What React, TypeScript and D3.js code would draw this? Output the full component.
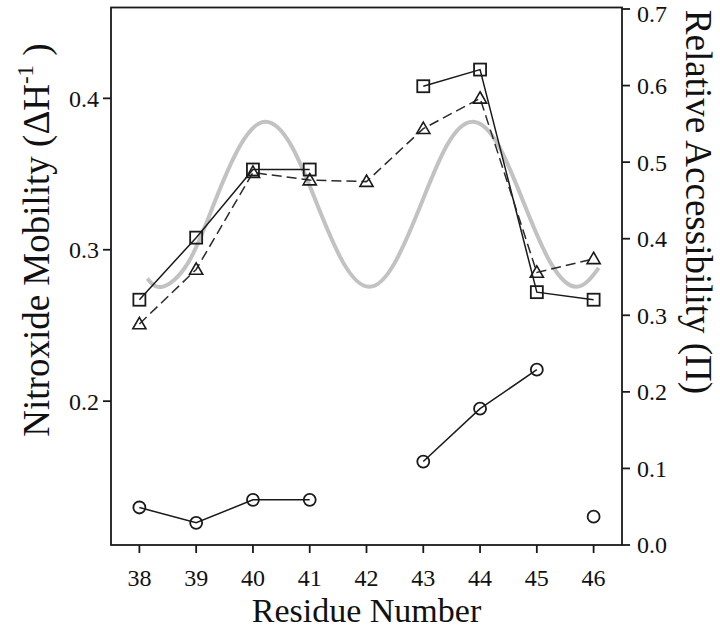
import * as d3 from 'd3';

// residue positions on the x axis
const residues = [38, 39, 40, 41, 42, 43, 44, 45, 46];
// nitroxide mobility (left axis); null = no measurement
const squareMobility = [0.267, 0.308, 0.353, 0.353, null, 0.408, 0.419, 0.272, 0.267];
const triangleMobility = [0.251, 0.287, 0.351, 0.346, 0.345, 0.38, 0.4, 0.285, 0.294];
// relative accessibility (right axis); groups say which points are joined
const circleAccess = [0.049, 0.029, 0.059, 0.059, null, 0.109, 0.178, 0.229, 0.037];
const circleGroup = [0, 0, 0, 0, null, 1, 1, 1, 2];

// grey helical-periodicity curve (left axis)
const waveResidue = [38.14, 38.4, 38.86, 39.31, 39.77, 40.22, 40.68, 41.13, 41.59, 42.05, 42.5, 42.96, 43.41, 43.87, 44.33, 44.78, 45.24, 45.7, 46.09];
const waveMobility = [0.281, 0.2755, 0.2915, 0.33, 0.3685, 0.3845, 0.3685, 0.33, 0.2915, 0.2755, 0.2915, 0.33, 0.3685, 0.3845, 0.3685, 0.33, 0.2915, 0.2755, 0.288];

const leftTicks = [0.2, 0.3, 0.4];
const rightTicks = [0, 0.1, 0.2, 0.3, 0.4, 0.5, 0.6, 0.7];

const W = 720;
const H = 630;
const box = { left: 111, right: 622, top: 7.5, bottom: 545 };
const font = '"Liberation Serif", "Times New Roman", serif';

type Pt = { r: number; v: number | null; g?: number | null };

export default function App() {
  const x = d3.scaleLinear().domain([37.5, 46.5]).range([box.left, box.right]);
  const yL = d3.scaleLinear().domain([0.105, 0.46]).range([box.bottom, box.top]);
  const yR = d3.scaleLinear().domain([0, 0.7]).range([box.bottom, 9]);

  const squares: Pt[] = residues.map((r, i) => ({ r, v: squareMobility[i] }));
  const triangles: Pt[] = residues.map((r, i) => ({ r, v: triangleMobility[i] }));
  const circles: Pt[] = residues.map((r, i) => ({ r, v: circleAccess[i], g: circleGroup[i] }));

  const lineL = d3.line<Pt>().defined(d => d.v !== null).x(d => x(d.r)).y(d => yL(d.v as number));

  const circleSegs = d3.groups(circles.filter(d => d.v !== null), d => d.g).map(([, pts]) => pts);
  const lineR = d3.line<Pt>().x(d => x(d.r)).y(d => yR(d.v as number));

  const wave = d3.line<number>()
    .x((_, i) => x(waveResidue[i]))
    .y(d => yL(d))
    .curve(d3.curveNatural);

  const tri = d3.symbol().type(d3.symbolTriangle).size(75)();

  return (
    <svg width={W} height={H} style={{ position: 'absolute', left: 0, top: 0, background: '#fff' }}
      fontFamily={font}>
      {/* grey curve */}
      <path d={wave(waveMobility) ?? ''} fill="none" stroke="#c2c2c2" strokeWidth={4} />

      {/* connecting lines */}
      <path d={lineL(squares) ?? ''} fill="none" stroke="#1a1a1a" strokeWidth={1.5} />
      <path d={lineL(triangles) ?? ''} fill="none" stroke="#2a2a2a" strokeWidth={1.5} strokeDasharray="10,5" />
      {circleSegs.map((seg, i) => (
        <path key={i} d={lineR(seg) ?? ''} fill="none" stroke="#1a1a1a" strokeWidth={1.5} />
      ))}

      {/* markers */}
      {squares.filter(d => d.v !== null).map(d => (
        <rect key={'s' + d.r} x={x(d.r) - 6} y={yL(d.v as number) - 6} width={12} height={12}
          fill="none" stroke="#1a1a1a" strokeWidth={1.8} />
      ))}
      {triangles.map(d => (
        <path key={'t' + d.r} d={tri ?? ''} transform={`translate(${x(d.r)},${yL(d.v as number) + 1})`}
          fill="none" stroke="#1a1a1a" strokeWidth={1.6} />
      ))}
      {circles.filter(d => d.v !== null).map(d => (
        <circle key={'c' + d.r} cx={x(d.r)} cy={yR(d.v as number)} r={6}
          fill="none" stroke="#1a1a1a" strokeWidth={1.8} />
      ))}

      {/* frame */}
      <rect x={box.left} y={box.top} width={box.right - box.left} height={box.bottom - box.top}
        fill="none" stroke="#1a1a1a" strokeWidth={1.8} />

      {/* left axis */}
      {leftTicks.map(t => (
        <g key={'l' + t}>
          <line x1={box.left - 8} x2={box.left} y1={yL(t)} y2={yL(t)} stroke="#1a1a1a" strokeWidth={1.8} />
          <text x={box.left - 12} y={yL(t)} dy="0.35em" textAnchor="end" fontSize={24} fill="#111">
            {d3.format('.1f')(t)}
          </text>
        </g>
      ))}

      {/* right axis */}
      {rightTicks.map(t => (
        <g key={'r' + t}>
          <line x1={box.right} x2={box.right + 8} y1={yR(t)} y2={yR(t)} stroke="#1a1a1a" strokeWidth={1.8} />
          <text x={box.right + 15} y={Math.max(yR(t), 13.5)} dy="0.35em" textAnchor="start" fontSize={24} fill="#111">
            {d3.format('.1f')(t)}
          </text>
        </g>
      ))}

      {/* bottom axis */}
      {residues.map(r => (
        <g key={'b' + r}>
          <line x1={x(r)} x2={x(r)} y1={box.bottom} y2={box.bottom + 8} stroke="#1a1a1a" strokeWidth={1.8} />
          <text x={x(r)} y={box.bottom + 41} textAnchor="middle" fontSize={24} fill="#111">{r}</text>
        </g>
      ))}

      {/* axis titles */}
      <text x={(box.left + box.right) / 2} y={622} textAnchor="middle" fontSize={34} fill="#111">
        Residue Number
      </text>
      <text transform={`translate(49,240) rotate(-90)`} textAnchor="middle" fontSize={37} fill="#111">
        Nitroxide Mobility (ΔH<tspan dy="-16" fontSize={23}>-1</tspan><tspan dy="16"> )</tspan>
      </text>
      <text transform={`translate(686,202) rotate(90)`} textAnchor="middle" fontSize={37} fill="#111">
        Relative Accessibility (Π)
      </text>
    </svg>
  );
}
